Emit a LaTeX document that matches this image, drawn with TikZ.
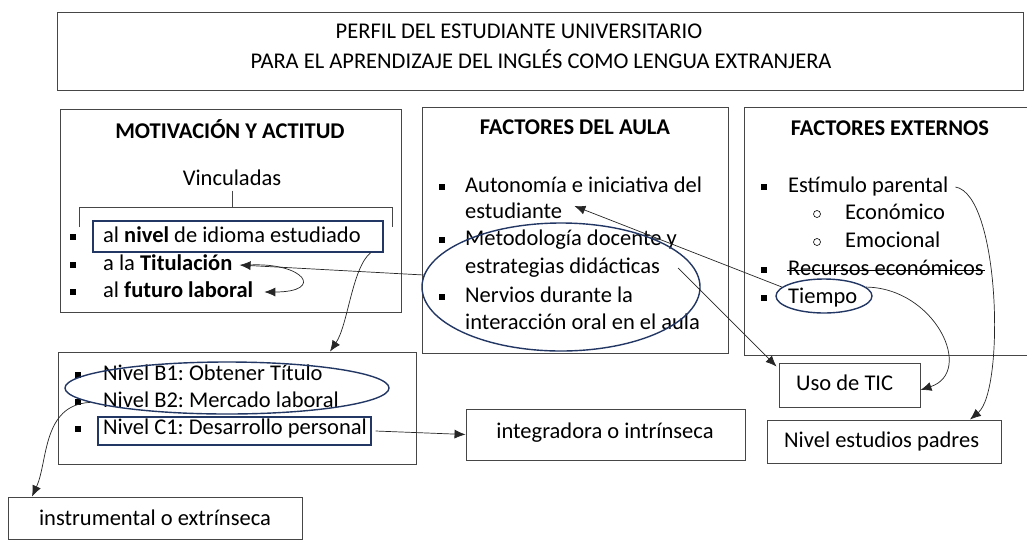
\documentclass[tikz,border=0pt]{standalone}
\usepackage{fontspec}
\setmainfont{Carlito}
\usetikzlibrary{arrows.meta,shapes.geometric}
\definecolor{navy}{RGB}{35,55,100}
\definecolor{boxgray}{RGB}{70,70,70}
\frenchspacing
\tikzset{
  box/.style={draw=boxgray, line width=0.9pt, inner sep=0pt},
  hlbox/.style={draw=navy, line width=1.3pt, inner sep=0pt},
  hlell/.style={draw=navy, line width=1.4pt, ellipse, inner sep=0pt},
  txt/.style={font=\fontsize{22.5}{27}\selectfont\frenchspacing, inner sep=0pt, text height=16pt, text depth=5pt, anchor=west},
  ctxt/.style={txt, anchor=center},
  arr/.style={-{Latex[length=11pt,width=9pt]}, line width=0.7pt, draw=black!85},
  sqb/.style={fill=black, minimum size=6.5pt, inner sep=0pt},
  cirb/.style={draw=black, circle, minimum size=7pt, inner sep=0pt, line width=0.6pt}
}
\begin{document}
\begin{tikzpicture}[x=1pt,y=-1pt]
\useasboundingbox (0,0) rectangle (1027,539);
\clip (0,0) rectangle (1027,539);
\fill[white] (0,0) rectangle (1027,539);

% title
\node[box, minimum width=966pt, minimum height=78pt] (title) at (540,51) {};
\node[ctxt] (t1) at (519,33) {PERFIL DEL ESTUDIANTE UNIVERSITARIO};
\node[ctxt] (t2) at (541,63) {PARA EL APRENDIZAJE DEL INGLÉS COMO LENGUA EXTRANJERA};

% column boxes
\node[box, minimum width=341pt, minimum height=203pt] (mot) at (230.5,210.5) {};
\node[box, minimum width=306pt, minimum height=246pt] (aula) at (575,230) {};
\node[box, minimum width=300pt, minimum height=248pt] (ext) at (894,231) {};

% Motivacion
\node[ctxt, font=\fontsize{22.5}{27}\selectfont\bfseries] (motT) at (230,133) {MOTIVACIÓN Y ACTITUD};
\node[ctxt] (vinc) at (232,180) {Vinculadas};
\draw[boxgray, line width=0.8pt] (vinc.south) -- (vinc.south |- 0,207);
\draw[boxgray, line width=0.8pt] (79,227) -- (79,207) -- (392,207) -- (392,227);
\node[sqb] (mb1) at (73,237) {};
\node[sqb] (mb2) at (73,265) {};
\node[sqb] (mb3) at (73,292) {};
\node[hlbox, minimum width=290pt, minimum height=31pt] (nivbox) at (238,236.5) {};
\node[txt] (niv) at (103,237) {al \textbf{nivel} de idioma estudiado};
\node[txt] (titul) at (103,265) {a la \textbf{Titulación}};
\node[txt] (futuro) at (103,292) {al \textbf{futuro laboral}};

% Factores del aula
\node[ctxt, font=\fontsize{22.5}{27}\selectfont\bfseries] (aulaT) at (575,129) {FACTORES DEL AULA};
\node[sqb] (ab1) at (442,187) {};
\node[sqb] (ab2) at (442,240) {};
\node[sqb] (ab3) at (442,297) {};
\node[txt] (a1) at (465,187) {Autonomía e iniciativa del};
\node[txt] (estud) at (465,213) {estudiante};
\node[txt] (a3) at (465,240) {Metodología docente y};
\node[txt] (estrat) at (465,268) {estrategias didácticas};
\node[txt] (a5) at (465,297) {Nervios durante la};
\node[txt] (a6) at (465,324) {interacción oral en el aula};
\node[hlell, minimum width=278pt, minimum height=128pt] (bigell) at (561,287) {};

% Factores externos
\node[ctxt, font=\fontsize{22.5}{27}\selectfont\bfseries] (extT) at (890,130) {FACTORES EXTERNOS};
\node[sqb] (eb1) at (764,187) {};
\node[cirb] (ec1) at (817,214) {};
\node[cirb] (ec2) at (817,242) {};
\node[sqb] (eb2) at (764,270) {};
\node[sqb] (eb3) at (764,298) {};
\node[txt] (estim) at (788,187) {Estímulo parental};
\node[txt] (econ) at (845,214) {Económico};
\node[txt] (emoc) at (845,242) {Emocional};
\node[txt] (recur) at (788,270) {Recursos económicos};
\draw[line width=0.9pt] ([xshift=-1pt]recur.west) -- ([xshift=1pt]recur.east);
\node[txt] (tiempo) at (788,298) {Tiempo};
\node[hlell, minimum width=96pt, minimum height=34pt] (tiell) at (824,296) {};

% niveles box
\node[box, minimum width=358pt, minimum height=112pt] (boxB) at (237,408) {};
\node[sqb] (bb1) at (78,375) {};
\node[sqb] (bb2) at (78,402) {};
\node[sqb] (bb3) at (78,429) {};
\node[txt] (b1) at (103,375) {Nivel B1: Obtener Título};
\node[txt] (b2) at (103,402) {Nivel B2: Mercado laboral};
\node[hlbox, minimum width=273pt, minimum height=28pt] (c1box) at (234.5,431) {};
\node[txt] (c1) at (103,429) {Nivel C1: Desarrollo personal};
\node[hlell, minimum width=324pt, minimum height=52pt] (ellB) at (227,388) {};

% bottom boxes
\node[box, minimum width=294pt, minimum height=42pt] (instr) at (155,518) {};
\node[ctxt] (instrT) at (155,520) {instrumental o extrínseca};
\node[box, minimum width=279pt, minimum height=51pt] (integ) at (605.5,434.5) {};
\node[ctxt] (integT) at (605,433) {integradora o intrínseca};
\node[box, minimum width=141pt, minimum height=44pt] (uso) at (849.5,385) {};
\node[txt] (usoT) at (796,385) {Uso de TIC};
\node[box, minimum width=234pt, minimum height=43pt] (padres) at (884,441.5) {};
\node[txt] (padresT) at (784,442) {Nivel estudios padres};

% connectors
\draw[arr] (bigell.175) -- ([xshift=7pt]titul.east);
\draw[arr] ([xshift=16pt]titul.east) .. controls (305,262) and (325,292) .. ([xshift=11pt]futuro.east);
\draw[arr] ([xshift=-13pt]nivbox.south east) .. controls (352,268) and (348,325) .. ([xshift=93pt]boxB.north);
\draw[arr] (ellB.186) .. controls (42,405) and (48,462) .. ([xshift=-123pt]instr.north);
\draw[arr] ([xshift=4pt]c1box.east) -- (integ.west);
\draw[arr] (tiell.168) -- ([shift={(12,-7)}]estud.east);
\draw[arr] ([xshift=18pt]estrat.east) -- ([shift={(-2,4)}]uso.north west);
\draw[arr] (tiell.12) .. controls (935,288) and (975,372) .. ([yshift=-5pt]uso.east);
\draw[arr] ([xshift=7pt]estim.east) .. controls (1000,195) and (1005,390) .. ([xshift=86pt]padres.north);
\end{tikzpicture}
\end{document}
